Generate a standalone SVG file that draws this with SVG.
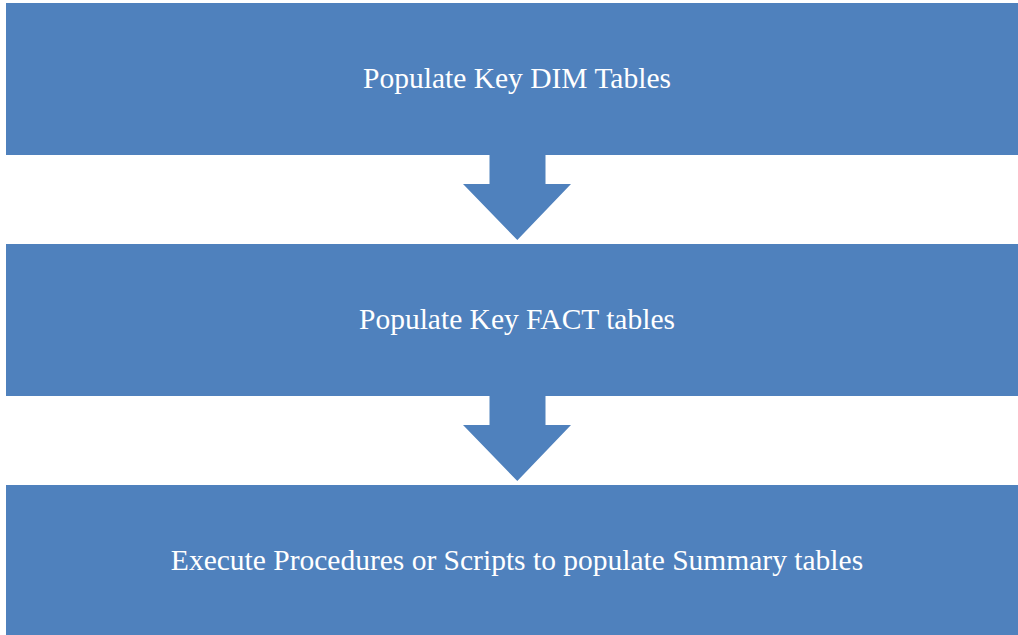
<svg xmlns="http://www.w3.org/2000/svg" width="1018" height="635" viewBox="0 0 1018 635">
<style>
.box{fill:#4F81BD}
.arrow{fill:#4F81BD}
.lbl{font-family:"Liberation Serif","Times New Roman",serif;font-size:29.5px;fill:#FFFFFF;text-anchor:middle}
</style>
<rect width="1018" height="635" fill="#FFFFFF"/>
<g id="node1"><rect class="box" x="6" y="3" width="1012" height="152"/><text class="lbl" x="517" y="88">Populate Key DIM Tables</text></g>
<g id="node2"><rect class="box" x="6" y="244" width="1012" height="152"/><text class="lbl" x="517" y="329">Populate Key FACT tables</text></g>
<g id="node3"><rect class="box" x="6" y="485" width="1012" height="152"/><text class="lbl" x="517" y="570">Execute Procedures or Scripts to populate Summary tables</text></g>
<g id="connectors">
<path class="arrow" d="M489.5,155 L545.5,155 L545.5,184 L571,184 L517.3,240 L463,184 L489.5,184 Z"/>
<path class="arrow" d="M489.5,396 L545.5,396 L545.5,425 L571,425 L517.3,481 L463,425 L489.5,425 Z"/>
</g>
</svg>
